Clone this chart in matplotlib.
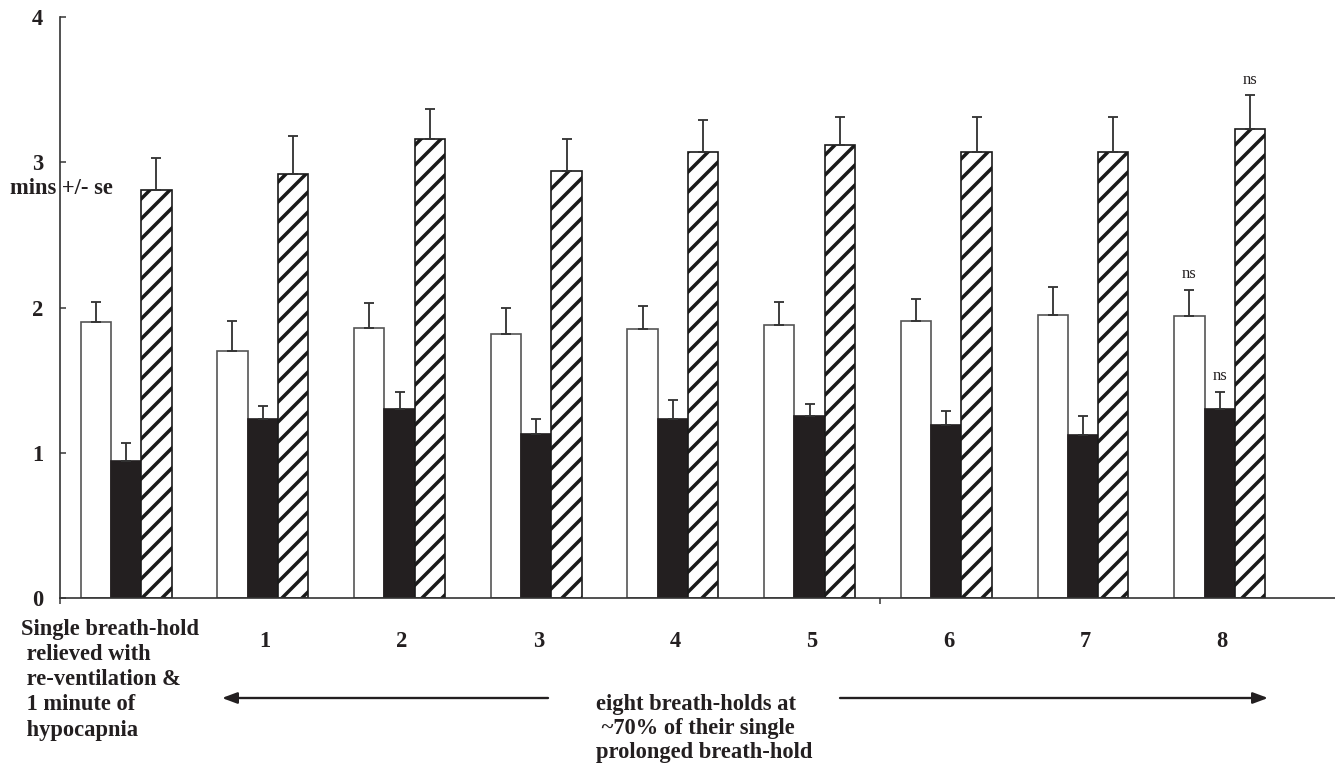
import numpy as np
import matplotlib
matplotlib.use("Agg")
import matplotlib.pyplot as plt

# ---- data (minutes) ----
groups = ["Single breath-hold\n relieved with\n re-ventilation &\n 1 minute of\n hypocapnia",
          "1", "2", "3", "4", "5", "6", "7", "8"]

white_mean = [1.90, 1.70, 1.86, 1.82, 1.85, 1.88, 1.91, 1.95, 1.94]
white_se = [0.14, 0.21, 0.17, 0.18, 0.16, 0.16, 0.15, 0.19, 0.18]

black_mean = [0.94, 1.23, 1.30, 1.13, 1.23, 1.25, 1.19, 1.12, 1.30]
black_se = [0.13, 0.09, 0.12, 0.10, 0.13, 0.085, 0.10, 0.13, 0.12]

hatch_mean = [2.81, 2.92, 3.16, 2.94, 3.07, 3.12, 3.07, 3.07, 3.23]
hatch_se = [0.22, 0.26, 0.21, 0.22, 0.22, 0.19, 0.24, 0.24, 0.23]

# "ns" marks: (group index, series index)
ns_marks = [(8, 0), (8, 1), (8, 2)]

ylabel = "mins +/- se"
span_text = "eight breath-holds at\n ~70% of their single\nprolonged breath-hold"

# ---- style ----
DPI = 120
FS = 13.5
plt.rcParams["font.family"] = ["Liberation Serif", "DejaVu Serif"]
plt.rcParams["hatch.linewidth"] = 2.1
plt.rcParams["hatch.color"] = "#1a1a1a"
ink = "#231f20"

fig = plt.figure(figsize=(1335 / DPI, 768 / DPI), dpi=DPI)
ax = fig.add_axes([60 / 1335, 1 - 598 / 768, 1 - 60 / 1335, (598 - 17) / 768])

x = np.arange(len(groups))
w = 0.2217
off = 0.151

series = [
    (white_mean, white_se, dict(color="white", edgecolor="#555555")),
    (black_mean, black_se, dict(color=ink, edgecolor=ink)),
    (hatch_mean, hatch_se, dict(color="white", edgecolor="#1a1a1a", hatch="//")),
]

for k, (m, se, kw) in enumerate(series):
    left = x + off + k * w
    ax.bar(left, m, width=w, align="edge", linewidth=1.0, zorder=2, **kw)
    ax.errorbar(left + w / 2, m, yerr=[np.zeros(len(m)), se], fmt="none",
                ecolor="#333333", elinewidth=1.1, capsize=2.8, capthick=1.1, zorder=3)

means = [white_mean, black_mean, hatch_mean]
ses = [white_se, black_se, hatch_se]
for g, s in ns_marks:
    xc = x[g] + off + s * w + w / 2
    ax.annotate("ns", (xc, means[s][g] + ses[s][g]), xytext=(0, 9.5),
                textcoords="offset points", ha="center", va="center",
                fontsize=10, color=ink)

ax.set_xlim(0, (1335 - 60) / 136.7)
ax.set_ylim(0, 4)

for side in ["top", "right"]:
    ax.spines[side].set_visible(False)
for side in ["left", "bottom"]:
    ax.spines[side].set_color("#333333")
    ax.spines[side].set_linewidth(1.0)

ax.set_yticks([0, 1, 2, 3, 4])
ax.set_yticklabels(["0", "1", "2", "3", "4"], fontweight="bold", fontsize=FS, color=ink)
ax.tick_params(axis="y", direction="in", length=3.6, width=0.9, color="#333333", pad=10)

ax.set_xticks(x[1:] + 0.5)
ax.set_xticklabels(groups[1:], fontweight="bold", fontsize=FS, color=ink)
ax.tick_params(axis="x", which="major", length=0, pad=20)
ax.set_xticks([0, 6], minor=True)
ax.tick_params(axis="x", which="minor", direction="out", length=3.6, width=0.9, color="#333333")

# first category label, left aligned under the first group
ax.text((20.7 - 60) / 136.7, -(619 - 598) / 581, groups[0], transform=ax.get_xaxis_transform(),
        ha="left", va="top", fontsize=FS, fontweight="bold", color=ink, linespacing=1.26)

fig.text(10 / 1335, 1 - 189 / 768, ylabel, ha="left", va="center",
         fontsize=FS, fontweight="bold", color=ink)

# arrows and text spanning the eight breath-holds
ay = -(698 - 598) / 581
arrow = dict(arrowstyle="-|>,head_length=0.75,head_width=0.28", color=ink, lw=1.4,
             shrinkA=0, shrinkB=0)
ax.annotate("", xy=(1.185, ay), xytext=(3.57, ay),
            xycoords=("data", "axes fraction"), textcoords=("data", "axes fraction"),
            arrowprops=arrow, annotation_clip=False)
ax.annotate("", xy=(8.837, ay), xytext=(5.706, ay),
            xycoords=("data", "axes fraction"), textcoords=("data", "axes fraction"),
            arrowprops=arrow, annotation_clip=False)
ax.text((595.7 - 60) / 136.7, -(694 - 598) / 581, span_text, transform=ax.get_xaxis_transform(),
        ha="left", va="top", fontsize=FS, fontweight="bold", color=ink, linespacing=1.2)

fig.savefig("out.png", dpi=DPI)
